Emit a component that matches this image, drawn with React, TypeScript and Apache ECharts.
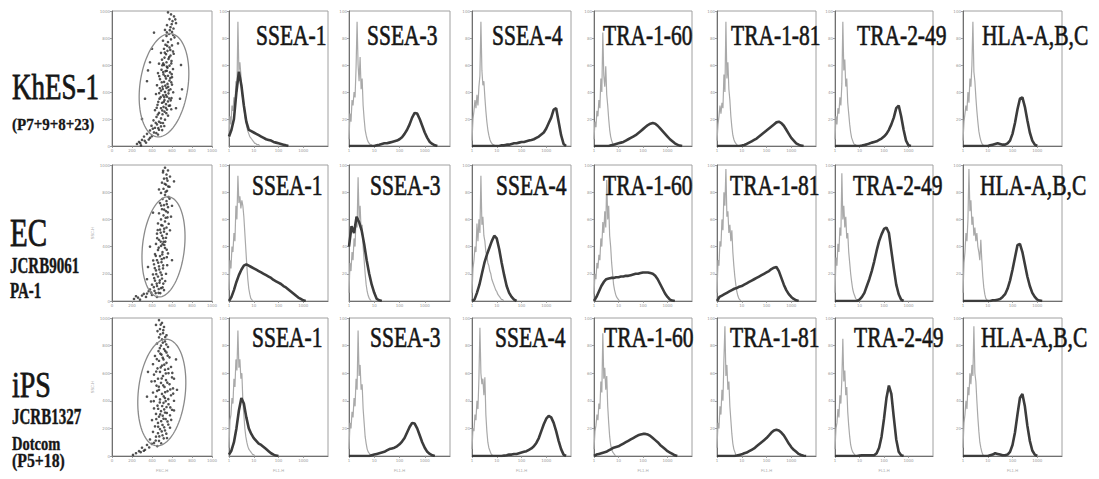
import React, { useEffect, useRef } from 'react';
import * as echarts from 'echarts';

// ---------------- DATA ----------------
const MARKERS = ['SSEA-1', 'SSEA-3', 'SSEA-4', 'TRA-1-60', 'TRA-1-81', 'TRA-2-49', 'HLA-A,B,C'];
const CELL_LINES = ['KhES-1', 'EC', 'iPS'];
const CELL_NOTES = [['(P7+9+8+23)'], ['JCRB9061', 'PA-1'], ['JCRB1327', 'Dotcom', '(P5+18)']];

const SCATTER_TICKS = [0, 200, 400, 600, 800, 1000];
const HIST_DECADES = [1, 10, 100, 1000, 10000];
const COUNT_TICKS = [0, 20, 40, 60, 80, 100];

// fluorescence channels at which histogram heights are read
const CTRL_X = [1, 1.096, 1.202, 1.318, 1.445, 1.585, 1.738, 1.905, 2.089, 2.291, 2.512, 2.754, 3.02, 3.311, 3.631, 3.981, 4.365, 4.786, 5.248, 5.754, 6.31, 6.918, 7.586, 8.318, 9.12, 10, 10.96, 12.02, 13.18, 14.45, 15.85, 17.38, 19.05, 20.89, 22.91, 25.12];
const SAMPLE_X = [1, 1.259, 1.585, 1.995, 2.512, 3.162, 3.981, 5.012, 6.31, 7.943, 10, 12.59, 15.85, 19.95, 25.12, 31.62, 39.81, 50.12, 63.1, 79.43, 100, 125.9, 158.5, 199.5, 251.2, 316.2, 398.1, 501.2, 631, 794.3, 1000, 1259, 1585, 1995, 2512, 3162, 3981, 5012, 6310, 7943, 10000];

// isotype-control histograms (gray), % of panel height
const KHES_CONTROL = [
  [6, 22, 16, 30, 26, 36, 30, 48, 40, 92, 55, 62, 53, 40, 34, 30, 22, 18, 14, 11, 9, 7, 6, 5, 4, 3, 2, 2, 1, 1, 1, 0],
  [5, 24, 18, 34, 30, 40, 36, 58, 92, 60, 48, 66, 42, 50, 30, 20, 12, 8, 5, 3, 2, 1, 1, 0],
  [4, 20, 26, 34, 28, 38, 30, 44, 52, 92, 56, 45, 48, 36, 26, 18, 12, 8, 5, 3, 2, 1, 1, 0],
  [5, 18, 14, 26, 22, 34, 28, 50, 40, 84, 52, 44, 59, 38, 30, 20, 12, 7, 4, 2, 1, 1, 0],
  [4, 16, 22, 30, 24, 32, 28, 53, 40, 92, 50, 62, 42, 34, 22, 14, 8, 5, 3, 2, 1, 0],
  [5, 22, 16, 28, 24, 36, 30, 46, 92, 56, 64, 44, 50, 32, 24, 16, 10, 6, 4, 2, 1, 1, 0],
  [4, 18, 24, 30, 26, 40, 32, 50, 44, 60, 92, 55, 48, 36, 26, 18, 11, 7, 4, 2, 1, 0],
];
const EC_CONTROL = [
  [8, 30, 24, 40, 36, 50, 44, 70, 60, 92, 72, 77, 68, 74, 70, 62, 50, 38, 26, 16, 9, 5, 2, 1, 0],
  [6, 28, 22, 36, 30, 46, 40, 62, 54, 91, 60, 70, 52, 56, 40, 30, 20, 12, 7, 4, 2, 1, 0],
  [6, 24, 30, 40, 36, 57, 44, 60, 50, 92, 56, 62, 48, 44, 36, 34, 28, 26, 22, 20, 16, 14, 12, 10, 8, 7, 5, 4, 3, 2, 1, 1, 0],
  [5, 20, 16, 28, 24, 34, 30, 46, 40, 58, 50, 66, 54, 89, 60, 70, 48, 40, 28, 20, 12, 8, 5, 3, 2, 1, 0],
  [6, 30, 26, 44, 40, 60, 52, 80, 70, 97, 62, 66, 50, 56, 44, 52, 36, 26, 18, 12, 7, 4, 2, 1, 0],
  [6, 32, 26, 42, 36, 54, 48, 94, 60, 70, 54, 62, 46, 50, 36, 28, 20, 14, 9, 6, 4, 2, 1, 0],
  [6, 28, 36, 50, 44, 60, 97, 66, 74, 56, 62, 48, 54, 44, 50, 40, 36, 30, 45, 30, 18, 10, 5, 2, 1, 0],
];
const IPS_CONTROL = [
  [6, 26, 30, 42, 38, 56, 50, 70, 62, 91, 64, 70, 56, 60, 40, 30, 20, 14, 10, 7, 5, 4, 3, 2, 1, 1, 0],
  [5, 24, 20, 32, 28, 42, 36, 56, 48, 91, 58, 66, 48, 52, 34, 24, 14, 9, 5, 3, 2, 1, 0],
  [5, 20, 18, 30, 26, 40, 34, 56, 93, 60, 52, 56, 44, 57, 30, 18, 10, 6, 4, 2, 1, 0],
  [5, 18, 22, 30, 26, 38, 34, 54, 46, 89, 56, 64, 48, 58, 36, 24, 14, 8, 5, 3, 2, 1, 0],
  [6, 24, 20, 36, 30, 48, 40, 70, 94, 58, 66, 48, 54, 36, 26, 16, 9, 5, 3, 1, 0],
  [5, 20, 24, 34, 28, 44, 38, 56, 85, 54, 62, 44, 50, 32, 22, 14, 8, 5, 3, 2, 1, 0],
  [6, 24, 30, 40, 34, 50, 44, 60, 52, 66, 58, 94, 60, 54, 40, 28, 18, 10, 6, 3, 1, 0],
];

// antibody-stained histograms (dark), % of panel height
const KHES_SAMPLE = [
  [7, 12, 20, 40, 55, 45, 30, 18, 12, 11, 10, 9, 8, 7, 6, 5, 4.5, 4, 3, 2.5, 2, 1.5, 1, 0.5, 0],
  [0, 0, 0, 0, 0, 0, 0, 0, 0, 0, 0, 0.5, 1, 1.5, 2, 2, 2.5, 3, 3.5, 4, 5, 6.5, 9, 12, 16, 21, 24.5, 24, 20, 15, 10, 6, 3, 1.5, 0.5, 0],
  [0, 0, 0, 0, 0, 0, 0, 0, 0, 0, 0, 0, 0.5, 0.5, 1, 1, 1.5, 2, 2, 2.5, 3, 3, 3.5, 4, 4.5, 5, 6, 7, 8.5, 10, 13, 17, 21, 27, 28, 18, 8, 1.5, 0],
  [0, 0, 0, 0, 0, 0, 0, 0.5, 1, 1.5, 2, 2.5, 3, 4, 5, 6, 7, 8, 9.5, 11, 12.5, 14, 15.5, 16.5, 17, 16.5, 15, 13, 11, 9, 7, 5, 3.5, 2, 1, 0.3, 0],
  [0, 0, 0, 0, 0, 0, 0, 0, 0, 0, 0.3, 0.8, 1.5, 2.5, 3.5, 4.5, 5.5, 7, 8.5, 10, 11.5, 13, 14.5, 16, 17.5, 18, 17, 15, 12, 9, 6, 4, 2, 1, 0.3, 0],
  [0, 0, 0, 0, 0, 0, 0, 0, 0, 0, 0, 0.3, 0.8, 1.2, 1.8, 2.5, 3, 3.5, 4.5, 5.5, 7, 9, 12, 16, 21, 28, 30, 22, 12, 4, 0.5, 0],
  [0, 0, 0, 0, 0, 0, 0, 0, 0, 0, 0, 0.5, 1, 1.5, 2, 1.5, 1, 1, 2, 4, 9, 17, 27, 35, 36, 29, 19, 10, 4, 1, 0],
];
const EC_SAMPLE = [
  [0, 3, 8, 14, 19, 23, 26, 27, 26, 25, 24, 23, 22, 21, 20, 19, 18, 17, 15.5, 14.5, 13.5, 12.5, 11, 10, 8.5, 7, 5.5, 4, 2.5, 1.5, 0.5, 0],
  [40, 55, 50, 62, 58, 52, 42, 30, 20, 12, 6, 1.5, 0.5, 0],
  [0, 1, 6, 12, 20, 28, 34, 39, 44, 48, 46, 38, 28, 19, 11, 6, 3, 1, 0],
  [0, 3, 7, 11, 14, 16, 16.5, 17, 17, 17.5, 17.5, 18, 18, 18.5, 18.5, 19, 19.5, 20, 20, 20.5, 21, 21, 21, 20.5, 20, 18.5, 16, 12.5, 9, 5.5, 3, 1, 0.3, 0],
  [0, 3, 4, 5, 6, 7, 8, 9, 9.5, 10.5, 11, 12, 13, 14, 15, 16, 17, 18, 19, 20, 21, 22, 23.5, 24.5, 25, 22, 17, 12, 8, 5, 3, 1.5, 0.5, 0],
  [0, 0, 0, 0, 0, 0, 0, 0, 0, 0, 1, 3, 6, 11, 16, 22, 29, 37, 44, 49, 53, 54, 50, 37, 24, 12, 5, 1, 0],
  [0, 0, 0, 0, 0, 0, 0, 0, 0, 0, 0, 0, 0.5, 0.5, 1, 1.5, 3, 5, 9, 15, 23, 32, 41, 42, 36, 27, 18, 11, 6, 3, 1, 0.3, 0],
];
const IPS_SAMPLE = [
  [1, 4, 10, 20, 33, 42, 38, 28, 20, 16, 13, 11, 9, 8, 6.5, 5, 3.5, 2, 1, 0.3, 0],
  [0, 0, 0, 0, 0, 0, 0, 0, 0, 0.5, 1, 1.5, 2, 2.5, 3, 4, 5, 5.5, 6, 7, 8.5, 10.5, 13, 17, 21, 24, 23.5, 20, 15, 10, 6, 3, 1.5, 0.5, 0],
  [0, 0, 0, 0, 0, 0, 0, 0, 0, 0, 0, 0, 0, 0.3, 0.5, 1, 1, 1.5, 1.5, 2, 2.5, 3, 3.5, 4.5, 5.5, 7, 9.5, 13, 18, 23, 27, 29, 28, 24, 18, 11, 5, 1, 0],
  [0, 1, 1.5, 2, 2.5, 3, 4, 5, 6, 6.5, 7, 8, 9, 10, 11, 12, 13, 14, 15, 15.5, 16, 16, 15.5, 14.5, 13, 11.5, 10, 8, 6.5, 5, 3.5, 2.5, 1.5, 0.5, 0],
  [0, 0, 0, 0, 0, 0, 0, 0, 0.3, 0.8, 1.2, 2, 2.5, 3.5, 4.5, 5.5, 7, 8.5, 10, 11.5, 13, 15, 17, 18.5, 19, 18.5, 17, 15, 12, 9, 6.5, 4.5, 3, 1.5, 0.7, 0.2, 0],
  [0, 0, 0, 0, 0, 0, 0, 0, 0, 0, 0.3, 0.5, 0.5, 0.5, 0.5, 0.5, 0.5, 2, 6, 14, 27, 42, 51, 45, 28, 12, 3, 0.5, 0],
  [0, 0, 0, 0, 0, 0, 0, 0, 0, 0, 0, 0.5, 1, 2, 1.5, 1, 0.5, 0.5, 1, 3, 8, 17, 30, 42, 45, 36, 22, 11, 4, 1, 0],
];

// FSC / SSC dot plots
const KHES_DOTS = [
  [560, 990], [590, 975], [620, 960], [575, 940], [605, 925], [640, 910], [550, 895], [585, 880], [615, 870], [530, 860], [600, 845], [570, 830], [545, 815], [625, 805], [590, 790], [510, 780],
  [560, 770], [535, 750], [600, 745], [575, 730], [520, 720], [555, 705], [610, 700], [490, 690], [540, 680], [585, 670], [525, 655], [565, 645], [500, 640], [595, 630], [545, 620], [470, 610],
  [520, 600], [575, 595], [555, 580], [610, 570], [495, 565], [535, 555], [580, 545], [460, 540], [515, 530], [560, 520], [600, 510], [540, 500], [480, 495], [575, 485], [520, 475], [555, 460],
  [600, 455], [450, 450], [505, 440], [545, 430], [585, 420], [490, 410], [530, 400], [565, 390], [440, 385], [510, 375], [550, 365], [595, 355], [475, 350], [525, 340], [560, 330], [500, 320],
  [540, 310], [455, 305], [580, 300], [515, 290], [490, 280], [550, 270], [430, 265], [525, 255], [470, 245], [505, 235], [560, 225], [445, 215], [490, 205], [530, 195], [415, 190], [470, 180],
  [510, 170], [450, 160], [395, 150], [490, 145], [430, 135], [470, 120], [380, 115], [420, 100], [350, 90], [460, 85], [320, 70], [380, 60], [300, 45], [270, 30], [340, 25], [250, 15], [290, 5],
  [380, 620], [350, 480], [400, 720], [330, 350], [690, 600], [700, 420], [660, 760], [420, 840], [360, 560], [640, 280], [680, 350], [300, 200],
  [512, 612], [548, 588], [583, 503], [497, 472], [533, 447], [567, 412], [478, 428], [523, 362], [587, 338], [463, 327], [538, 283], [503, 263], [458, 233], [543, 243], [487, 172], [523, 148],
  [437, 172], [463, 132], [502, 118], [408, 128], [443, 96], [398, 72], [367, 48], [327, 38], [283, 22], [552, 742], [583, 712], [528, 692], [617, 683], [572, 658], [503, 598], [593, 612],
  [548, 557], [512, 547], [597, 532], [472, 517], [532, 517], [593, 472], [562, 438], [508, 422], [612, 398], [472, 392], [538, 378], [487, 362], [572, 352], [517, 327], [593, 272], [568, 298],
  [447, 283], [612, 822], [578, 858], [633, 938], [597, 902], [548, 842],
];
const EC_DOTS = [
  [530, 980], [560, 960], [510, 945], [545, 930], [580, 915], [520, 900], [555, 885], [500, 870], [540, 855], [575, 840], [515, 825], [550, 810], [490, 795], [530, 780], [565, 765], [505, 750],
  [545, 735], [480, 720], [520, 705], [560, 690], [500, 675], [540, 660], [470, 645], [515, 630], [555, 615], [490, 600], [530, 585], [460, 570], [505, 555], [545, 540], [480, 525], [520, 510],
  [450, 495], [500, 480], [540, 465], [470, 450], [515, 435], [440, 420], [490, 405], [530, 390], [460, 375], [505, 360], [430, 345], [480, 330], [520, 315], [450, 300], [495, 285], [420, 270],
  [470, 255], [510, 240], [440, 225], [485, 210], [410, 195], [460, 180], [500, 165], [430, 150], [475, 135], [400, 120], [450, 110], [490, 95], [380, 85], [425, 75], [465, 60], [350, 55],
  [400, 45], [300, 40], [340, 30], [260, 25], [220, 15], [280, 10], [240, 35], [450, 30], [520, 80], [540, 200], [560, 350], [580, 520], [600, 700], [380, 400], [360, 250], [620, 880],
  [410, 650], [350, 160], [600, 300], [470, 820], [590, 620],
  [512, 462], [548, 493], [487, 437], [523, 412], [467, 392], [503, 342], [547, 377], [438, 332], [497, 307], [462, 282], [512, 262], [428, 242], [473, 232], [497, 192], [443, 198], [422, 168],
  [478, 152], [513, 128], [447, 128], [418, 102], [467, 88], [437, 58], [392, 62], [367, 72], [318, 52], [483, 58], [506, 100], [532, 147], [552, 263], [537, 612], [558, 652], [522, 672],
  [548, 712], [575, 752], [536, 802], [562, 842], [512, 958], [547, 902], [527, 862], [493, 558], [522, 532], [457, 522], [487, 503], [533, 437], [452, 462], [505, 418], [548, 322], [412, 298],
  [567, 568], [492, 702],
];
const IPS_DOTS = [
  [470, 985], [500, 965], [440, 950], [520, 935], [480, 920], [455, 905], [510, 890], [545, 875], [470, 860], [500, 845], [530, 830], [450, 815], [490, 800], [560, 790], [520, 775], [465, 760],
  [545, 750], [495, 735], [430, 725], [575, 715], [515, 700], [470, 690], [545, 675], [410, 665], [500, 655], [590, 645], [455, 635], [530, 625], [480, 610], [565, 600], [420, 590], [510, 580],
  [600, 570], [460, 560], [540, 550], [395, 540], [490, 530], [575, 520], [445, 510], [525, 500], [610, 490], [470, 480], [555, 470], [410, 460], [500, 450], [590, 440], [440, 430], [530, 420],
  [480, 410], [620, 400], [390, 395], [515, 385], [565, 375], [455, 365], [545, 355], [420, 345], [600, 335], [490, 325], [530, 315], [440, 305], [580, 295], [470, 285], [515, 270], [400, 260],
  [555, 250], [460, 240], [505, 225], [430, 215], [580, 205], [480, 195], [530, 185], [410, 175], [460, 165], [505, 150], [440, 140], [550, 130], [380, 120], [470, 110], [420, 95], [350, 80],
  [300, 60], [330, 45], [270, 35], [240, 20], [210, 8], [620, 560], [640, 700], [360, 610], [350, 430], [620, 330], [650, 480],
  [487, 952], [513, 912], [532, 862], [483, 882], [508, 822], [543, 808], [478, 782], [532, 762], [507, 712], [483, 742], [557, 727], [448, 702], [523, 662], [563, 632], [487, 642], [442, 612],
  [538, 598], [497, 562], [553, 532], [512, 512], [468, 502], [583, 482], [532, 462], [452, 472], [517, 432], [563, 412], [478, 388], [537, 398], [502, 362], [583, 352], [462, 342], [522, 338],
  [482, 302], [548, 312], [507, 292], [443, 268], [537, 268], [492, 252], [563, 228], [522, 208], [462, 212], [497, 178], [543, 162], [473, 142], [517, 128], [437, 112], [492, 92], [453, 72],
  [398, 88], [372, 62], [318, 38], [287, 28], [603, 602], [612, 452], [418, 398], [428, 542], [592, 262],
];
// live-cell gates: centre x, centre y, half-width, half-height, tilt (deg)
const GATES = [
  [520, 450, 240, 385, 8],
  [515, 398, 210, 370, 6],
  [498, 460, 235, 388, 6],
];

const CONTROLS = [KHES_CONTROL, EC_CONTROL, IPS_CONTROL];
const SAMPLES = [KHES_SAMPLE, EC_SAMPLE, IPS_SAMPLE];
const DOTS = [KHES_DOTS, EC_DOTS, IPS_DOTS];

// ---------------- LAYOUT ----------------
const COL_LEFT = [112, 229, 349, 472, 594, 717, 835, 963];
const COL_W = [100, 99, 101, 99, 98, 99, 98, 99];
const ROW_TOP = [11, 165, 318];
const ROW_H = [135, 136, 138];
const TITLE_LEFT = [
  [256, 367, 492, 603, 731, 857, 982],
  [252, 370, 496, 603, 730, 853, 980],
  [252, 370, 495, 604, 730, 854, 981],
];
const TITLE_Y = [35, 185, 337];
const NAME_POS = [
  { x: 12, y: 87, size: 27, sy: 1.33 },
  { x: 10, y: 232, size: 29, sy: 1.35 },
  { x: 12, y: 385, size: 28, sy: 1.3 },
];
const NOTE_POS = [
  [{ x: 12, y: 124, size: 15, sy: 1.05 }],
  [{ x: 10, y: 265, size: 15, sy: 1.5 }, { x: 10, y: 290, size: 15, sy: 1.5 }],
  [{ x: 12, y: 416, size: 15, sy: 1.5 }, { x: 12, y: 444, size: 14.5, sy: 1.3 }, { x: 12, y: 461, size: 15.8, sy: 1.15 }],
];

const SERIF = '"Liberation Serif", "DejaVu Serif", serif';
const tinyLabel = { fontSize: 4, color: '#9a9a9a', margin: 2, fontFamily: 'DejaVu Sans' };
const axisLineStyle = { show: true, lineStyle: { color: '#707070', width: 1 } };
const tickStyle = { show: true, length: 2, lineStyle: { color: '#8a8a8a', width: 0.8 } };

function textEl(x: number, y: number, sy: number, text: string, font: string, strokeW: number) {
  return {
    type: 'text', x, y, scaleX: 1, scaleY: sy, originX: 0, originY: 0, z: 100,
    style: {
      text, font, fill: '#161616', stroke: '#2a2a2a', lineWidth: strokeW,
      textAlign: 'left', align: 'left', textVerticalAlign: 'middle', verticalAlign: 'middle',
    },
  };
}

function buildOption() {
  const grid: any[] = [];
  const xAxis: any[] = [];
  const yAxis: any[] = [];
  const series: any[] = [];
  const graphic: any[] = [];
  let gi = 0;

  for (let r = 0; r < 3; r++) {
    // dot plot
    grid.push({ left: COL_LEFT[0], top: ROW_TOP[r], width: COL_W[0], height: ROW_H[r], show: true, borderColor: '#a0a0a0', borderWidth: 1, backgroundColor: '#fff' });
    xAxis.push({
      type: 'value', gridIndex: gi, min: SCATTER_TICKS[0], max: SCATTER_TICKS[SCATTER_TICKS.length - 1], interval: 200,
      axisLine: axisLineStyle, axisTick: tickStyle, axisLabel: { ...tinyLabel, formatter: (v: number) => String(v) }, splitLine: { show: false },
      name: r === 2 ? 'FSC-H' : '', nameLocation: 'middle', nameGap: 12, nameTextStyle: { fontSize: 4, color: '#aaa' },
    });
    yAxis.push({
      type: 'value', gridIndex: gi, min: SCATTER_TICKS[0], max: SCATTER_TICKS[SCATTER_TICKS.length - 1], interval: 200,
      axisLine: axisLineStyle, axisTick: tickStyle, axisLabel: { ...tinyLabel, formatter: (v: number) => String(v) }, splitLine: { show: false },
      name: r > 0 ? 'SSC-H' : '', nameLocation: 'middle', nameGap: 18, nameTextStyle: { fontSize: 4, color: '#aaa' },
    });
    series.push({
      type: 'scatter', xAxisIndex: gi, yAxisIndex: gi, data: DOTS[r], symbolSize: 2.6,
      itemStyle: { color: '#262626', opacity: 0.8 }, z: 3,
    });
    series.push({
      type: 'custom', xAxisIndex: gi, yAxisIndex: gi, data: [GATES[r]], encode: { x: 0, y: 1 }, z: 4,
      renderItem: (params: any, api: any) => {
        const c = api.coord([api.value(0), api.value(1)]);
        const sx = api.size([api.value(2), 0])[0];
        const sy = api.size([0, api.value(3)])[1];
        const a = (api.value(4) * Math.PI) / 180;
        const pts: number[][] = [];
        for (let i = 0; i < 90; i++) {
          const t = (i / 90) * Math.PI * 2;
          const lx = sx * Math.cos(t);
          const ly = sy * Math.sin(t);
          pts.push([c[0] + lx * Math.cos(a) - ly * Math.sin(a), c[1] + lx * Math.sin(a) + ly * Math.cos(a)]);
        }
        return { type: 'polygon', shape: { points: pts }, style: { fill: 'none', stroke: '#8a8a8a', lineWidth: 1.3 } };
      },
    });
    gi++;

    // histograms
    for (let c = 0; c < 7; c++) {
      grid.push({ left: COL_LEFT[c + 1], top: ROW_TOP[r], width: COL_W[c + 1], height: ROW_H[r], show: true, borderColor: '#a0a0a0', borderWidth: 1, backgroundColor: '#fff' });
      xAxis.push({
        type: 'log', logBase: 10, gridIndex: gi, min: HIST_DECADES[0], max: HIST_DECADES[HIST_DECADES.length - 1], splitNumber: 4,
        axisLine: axisLineStyle, axisTick: tickStyle, splitLine: { show: false }, minorTick: { show: false },
        axisLabel: { ...tinyLabel, showMaxLabel: false, formatter: (v: number) => String(Math.round(v)) },
        name: r === 2 ? 'FL1-H' : '', nameLocation: 'middle', nameGap: 12, nameTextStyle: { fontSize: 4, color: '#aaa' },
      });
      yAxis.push({
        type: 'value', gridIndex: gi, min: COUNT_TICKS[0], max: COUNT_TICKS[COUNT_TICKS.length - 1], interval: 20,
        axisLine: axisLineStyle, axisTick: tickStyle, splitLine: { show: false },
        axisLabel: { ...tinyLabel, showMinLabel: false },
      });
      series.push({
        type: 'line', xAxisIndex: gi, yAxisIndex: gi, showSymbol: false, symbol: 'none', z: 3,
        data: CONTROLS[r][c].map((v, i) => [CTRL_X[i], v]),
        lineStyle: { color: '#a9a9a9', width: 1.2 },
      });
      series.push({
        type: 'line', xAxisIndex: gi, yAxisIndex: gi, showSymbol: false, symbol: 'none', z: 4,
        data: SAMPLES[r][c].map((v, i) => [SAMPLE_X[i], v]),
        lineStyle: { color: '#3c3c3c', width: 2.6 },
      });
      graphic.push(textEl(TITLE_LEFT[r][c], TITLE_Y[r], 1.4, MARKERS[c], `21.5px ${SERIF}`, 0.5));
      gi++;
    }

    // row labels
    const np = NAME_POS[r];
    graphic.push(textEl(np.x, np.y, np.sy, CELL_LINES[r], `${np.size}px ${SERIF}`, 0.6));
    CELL_NOTES[r].forEach((note, k) => {
      const p = NOTE_POS[r][k];
      graphic.push(textEl(p.x, p.y, p.sy, note, `bold ${p.size}px ${SERIF}`, 0.3));
    });
  }

  return { animation: false, backgroundColor: '#ffffff', grid, xAxis, yAxis, series, graphic };
}

export default function App() {
  const ref = useRef<HTMLDivElement>(null);
  useEffect(() => {
    if (!ref.current) return;
    const chart = echarts.init(ref.current, undefined, { renderer: 'svg' });
    chart.setOption(buildOption() as any);
    return () => chart.dispose();
  }, []);
  return <div ref={ref} style={{ position: 'absolute', left: 0, top: 0, width: 1099, height: 479, background: '#fff' }} />;
}
